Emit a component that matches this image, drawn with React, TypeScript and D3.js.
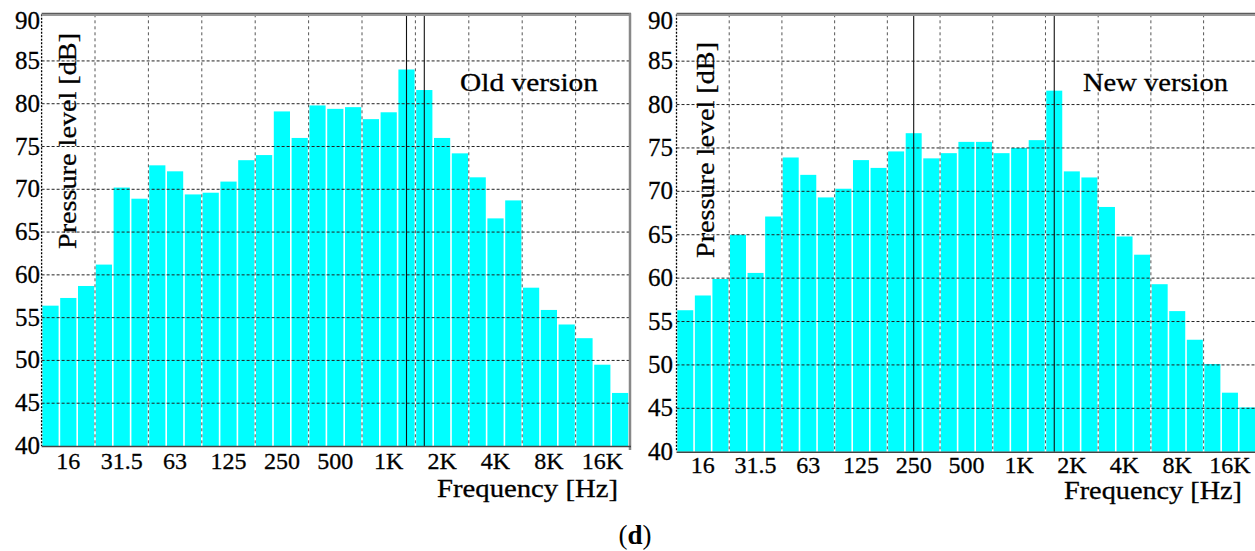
import React, { useEffect, useRef } from "react";
import * as d3 from "d3";

// 1/3 octave bands
const bands = ["12.5", "16", "20", "25", "31.5", "40", "50", "63", "80", "100", "125", "160", "200", "250", "315", "400", "500", "630", "800", "1K", "1.25K", "1.6K", "2K", "2.5K", "3.15K", "4K", "5K", "6.3K", "8K", "10K", "12.5K", "16K", "20K"];
const tickLabels = ["16", "31.5", "63", "125", "250", "500", "1K", "2K", "4K", "8K", "16K"];
const yTicks = [40, 45, 50, 55, 60, 65, 70, 75, 80, 85, 90];

const oldLevels = [56.4, 57.3, 58.7, 61.2, 70.2, 68.9, 72.8, 72.1, 69.4, 69.6, 70.9, 73.4, 74.0, 79.1, 76.0, 79.8, 79.4, 79.6, 78.2, 79.0, 84.0, 81.6, 76.0, 74.2, 71.4, 66.6, 68.7, 58.5, 55.9, 54.2, 52.6, 49.5, 46.2];
const newLevels = [56.3, 58.0, 59.9, 65.0, 60.6, 67.1, 73.9, 71.9, 69.3, 70.3, 73.6, 72.7, 74.6, 76.7, 73.8, 74.4, 75.7, 75.7, 74.4, 75.0, 75.9, 81.6, 72.3, 71.6, 68.2, 64.8, 62.7, 59.3, 56.2, 52.9, 50.1, 46.8, 45.1];

const oldMarkers = ["1.25K", "1.6K"];
const newMarkers = ["250", "1.6K"];

const FONT = "Liberation Serif";

function drawPanel(svg, cfg) {
  const { x0, x1, yBottom, yTop, top, levels, markers, title, titleX, titleLen, labelX, labelY, freqX, freqLen, freqY, tickY, axisLabelX } = cfg;

  const x = d3.scaleBand().domain(bands).range([x0, x1]).paddingInner(0.09).paddingOuter(0.045);
  const y = d3.scaleLinear().domain([40, top]).range([yBottom, yTop]);
  const g = svg.append("g").style("font-family", FONT);

  // bars
  g.selectAll("rect.bar")
    .data(levels)
    .join("rect")
    .attr("class", "bar")
    .attr("x", (d, i) => x(bands[i]))
    .attr("width", x.bandwidth())
    .attr("y", (d) => y(d))
    .attr("height", (d) => y(40) - y(d))
    .attr("fill", "#00ffff");

  const right = Math.min(x1, 1256);

  // horizontal grid
  g.selectAll("line.hg")
    .data(yTicks.filter((t) => t > 40 && t < 90))
    .join("line")
    .attr("x1", x0).attr("x2", right)
    .attr("y1", (d) => y(d)).attr("y2", (d) => y(d))
    .attr("stroke", "#222").attr("stroke-width", 1)
    .attr("stroke-dasharray", "3,2");

  // vertical grid, every octave
  const step = x.step();
  g.selectAll("line.vg")
    .data(d3.range(1, 11))
    .join("line")
    .attr("x1", (k) => x0 + step * 3 * k).attr("x2", (k) => x0 + step * 3 * k)
    .attr("y1", y(top)).attr("y2", y(40))
    .attr("stroke", "#555").attr("stroke-width", 1)
    .attr("stroke-dasharray", "3,3");

  // marker lines
  g.selectAll("line.mk")
    .data(markers)
    .join("line")
    .attr("x1", (d) => x(d) + x.bandwidth() / 2).attr("x2", (d) => x(d) + x.bandwidth() / 2)
    .attr("y1", y(top)).attr("y2", y(40))
    .attr("stroke", "#111").attr("stroke-width", 1.1);

  // frame
  g.append("line").attr("x1", x0).attr("x2", x0).attr("y1", y(top)).attr("y2", y(40))
    .attr("stroke", "#000").attr("stroke-width", 1.3).attr("stroke-dasharray", "2,1.5");
  g.append("line").attr("x1", x0).attr("x2", right + 2).attr("y1", y(top) - 1).attr("y2", y(top) - 1)
    .attr("stroke", "#333").attr("stroke-width", 1);
  g.append("line").attr("x1", x0).attr("x2", right + 2).attr("y1", y(top) + 0.8).attr("y2", y(top) + 0.8)
    .attr("stroke", "#999").attr("stroke-width", 2);
  if (x1 < 1250) {
    g.append("line").attr("x1", x1 + 1).attr("x2", x1 + 1).attr("y1", y(top) - 1).attr("y2", y(40) + 4)
      .attr("stroke", "#888").attr("stroke-width", 2.5);
  }
  g.append("line").attr("x1", x0).attr("x2", right + 2).attr("y1", y(40) + 0.5).attr("y2", y(40) + 0.5)
    .attr("stroke", "#444").attr("stroke-width", 1.5);

  // y tick labels
  g.selectAll("text.yt")
    .data(yTicks)
    .join("text")
    .attr("x", axisLabelX)
    .attr("y", (d) => (d === 90 ? y(90) + 3 : y(d)) + 8)
    .attr("text-anchor", "end")
    .attr("font-size", 25).attr("fill", "#000")
    .attr("stroke", "#000").attr("stroke-width", 0.3)
    .text((d) => d);

  // x tick labels
  g.selectAll("text.xt")
    .data(tickLabels)
    .join("text")
    .attr("x", (d) => x(d) + x.bandwidth() / 2)
    .attr("y", tickY)
    .attr("text-anchor", "middle")
    .attr("font-size", 24).attr("fill", "#000")
    .attr("stroke", "#000").attr("stroke-width", 0.3)
    .text((d) => d);

  // axis titles
  g.append("text")
    .attr("transform", `translate(${labelX},${labelY}) rotate(-90)`)
    .attr("text-anchor", "middle")
    .attr("font-size", 26).attr("fill", "#000")
    .attr("stroke", "#000").attr("stroke-width", 0.3)
    .attr("textLength", 216).attr("lengthAdjust", "spacingAndGlyphs")
    .text("Pressure level [dB]");
  g.append("text")
    .attr("x", freqX).attr("y", freqY)
    .attr("font-size", 25).attr("fill", "#000")
    .attr("stroke", "#000").attr("stroke-width", 0.3)
    .attr("textLength", freqLen).attr("lengthAdjust", "spacingAndGlyphs")
    .text("Frequency [Hz]");
  g.append("text")
    .attr("x", titleX).attr("y", 91)
    .attr("font-size", 26).attr("fill", "#000")
    .attr("stroke", "#000").attr("stroke-width", 0.3)
    .attr("textLength", titleLen).attr("lengthAdjust", "spacingAndGlyphs")
    .text(title);
}

export default function App() {
  const ref = useRef(null);

  useEffect(() => {
    const svg = d3.select(ref.current);
    svg.selectAll("*").remove();

    drawPanel(svg, {
      x0: 41.6, x1: 41.6 + 33 * 17.8, yBottom: 446, yTop: 14.3, top: 90.45,
      levels: oldLevels, markers: oldMarkers,
      title: "Old version", titleX: 460, titleLen: 138,
      labelX: 76, labelY: 141, freqX: 437, freqLen: 181, freqY: 497,
      tickY: 469, axisLabelX: 40,
    });

    drawPanel(svg, {
      x0: 676.5, x1: 676.5 + 33 * 17.57, yBottom: 451.7, yTop: 14.3, top: 90.4,
      levels: newLevels, markers: newMarkers,
      title: "New version", titleX: 1083, titleLen: 145,
      labelX: 714, labelY: 150, freqX: 1064, freqLen: 178, freqY: 499,
      tickY: 472.5, axisLabelX: 673,
    });

    // caption
    const cap = svg.append("text")
      .attr("x", 635).attr("y", 544)
      .attr("text-anchor", "middle")
      .style("font-family", FONT).attr("font-size", 27).attr("fill", "#000");
    cap.append("tspan").text("(");
    cap.append("tspan").attr("font-weight", "bold").text("d");
    cap.append("tspan").text(")");
  }, []);

  return (
    <svg
      ref={ref}
      width={1255}
      height={551}
      style={{ position: "absolute", left: 0, top: 0, background: "#fff" }}
    ></svg>
  );
}
